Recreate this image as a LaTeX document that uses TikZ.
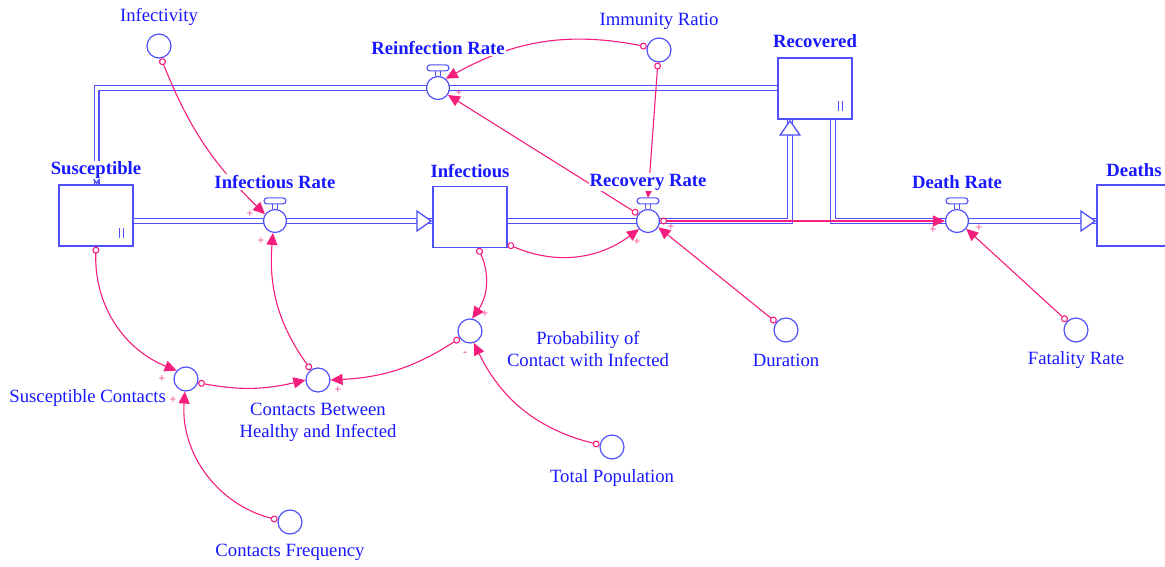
\documentclass[tikz,border=0pt]{standalone}
\usepackage{fontspec}
\setmainfont{Liberation Serif}
\usepackage {tikz}
\usetikzlibrary {positioning}
\usetikzlibrary{arrows.meta,calc,backgrounds}

\definecolor{vbluetext}{RGB}{25,25,255}
\definecolor{vblueline}{RGB}{80,80,250}
\definecolor{vpink}{RGB}{245,30,125}

% flow valve: circle with handle on top
\newcommand{\valve}[2]{%
  \node[valve] (#1) at (#2) {};
  \draw[valve_line] ($(#1.north)+(-2.5,0)$) -- ++(0,-5.5) ++(5,0) -- ++(0,5.5);
  \draw[valve_line, fill=white, rounded corners=3pt] ($(#1.north)+(-11,-5)$) rectangle ($(#1.north)+(11,-11)$);
  \coordinate (#1-top) at ($(#1.north)+(0,-11)$);
}

\begin{document}
\begin{tikzpicture}[x=1pt, y=-1pt, auto, node distance=30pt and 30pt, on grid,
  stock/.style={rectangle, draw=vblueline, fill=white, line width=1.4pt,
  minimum width=74pt, minimum height=61pt, inner sep=0pt},
  valve/.style={circle, draw=vblueline, fill=white, line width=1.2pt,
  minimum size=23pt, inner sep=0pt},
  valve_line/.style={draw=vblueline, line width=1.1pt},
  aux/.style={circle, draw=vblueline, fill=white, line width=1.2pt,
  minimum size=24pt, inner sep=0pt},
  pipe/.style={draw=vblueline, line width=1.3pt, double=white, double distance=3.4pt},
  pipe_tip/.style={draw=vblueline, line width=1.3pt, -{Triangle[length=16pt, width=22pt, fill=white]}},
  link/.style={draw=vpink, line width=1.1pt,
  arrows={Circle[open, length=7pt, width=7pt]-Triangle[length=12pt, width=11pt]}},
  name_label/.style={text=vbluetext, fill=white, inner sep=1pt, font=\fontsize{18.7}{22}\selectfont\bfseries},
  var_label/.style={text=vbluetext, fill=white, inner sep=1pt, align=center, font=\fontsize{18.7}{22}\selectfont},
  polarity/.style={text=vpink, inner sep=0pt, font=\fontsize{12}{14}\selectfont}]
  \useasboundingbox (0,0) rectangle (1165,566);

  % stocks
  \node[stock] (susceptible) at (96,215.5) {};
  \node[stock] (infectious) at (470,217) {};
  \node[stock] (recovered) at (815,88.5) {};
  \node[stock] (deaths) at (1134,215.5) {};

  % flows
  \valve{infrate}{275,221}
  \valve{recrate}{648,221}
  \valve{reinfrate}{438,88}
  \valve{deathrate}{957,221}

  % auxiliaries
  \node[aux] (infectivity) at (159,46) {};
  \node[aux] (immunity) at (659,50) {};
  \node[aux] (suscontacts) at (186,379) {};
  \node[aux] (contacts) at (318,380) {};
  \node[aux] (probability) at (470,331) {};
  \node[aux] (totalpop) at (612,447) {};
  \node[aux] (duration) at (786,330) {};
  \node[aux] (fatality) at (1076,330) {};
  \node[aux] (frequency) at (290,522) {};

  % pipes
  \coordinate (rec-in) at (790,221);
  \coordinate (rec-out) at (833,221);
  \coordinate (sus-in) at (96.5,88);
  \begin{scope}[on background layer]
    \draw[pipe] (susceptible.east |- infrate) -- (infectious.west |- infrate);
    \draw[pipe] (infectious.east |- recrate) -- (rec-in) -- (rec-in |- recovered.south);
    \draw[pipe] (rec-out |- recovered.south) -- (rec-out) -- (deaths.west |- deathrate);
    \draw[pipe] (recovered.west |- reinfrate) -- (sus-in) -- (sus-in |- susceptible.north);
  \end{scope}
  \draw[pipe_tip] ($(infectious.west |- infrate)+(-16,0)$) -- (infectious.west |- infrate);
  \draw[pipe_tip] ($(rec-in |- recovered.south)+(0,16)$) -- (rec-in |- recovered.south);
  \draw[pipe_tip] ($(deaths.west |- deathrate)+(-16,0)$) -- (deaths.west |- deathrate);
  \draw[pipe_tip] ($(sus-in |- susceptible.north)+(0,-16)$) -- (sus-in |- susceptible.north);

  % marks in stocks
  \draw[valve_line] ($(susceptible.south east)+(-14.5,-9)$) -- ++(0,-10);
  \draw[valve_line] ($(susceptible.south east)+(-10.5,-9)$) -- ++(0,-10);
  \draw[valve_line] ($(recovered.south east)+(-14.5,-9)$) -- ++(0,-10);
  \draw[valve_line] ($(recovered.south east)+(-10.5,-9)$) -- ++(0,-10);

  % links
  \path (infectivity.-80) edge[link, bend right=12] (infrate.146);
  \path (contacts.125) edge[link, bend left=20] (infrate.-100);
  \path (susceptible.south) edge[link, bend right=35] (suscontacts.138);
  \path (frequency.170) edge[link, bend left=40] (suscontacts.-95);
  \path (suscontacts.-17) edge[link, bend right=12] (contacts.180);
  \path (probability.-145) edge[link, bend left=15] (contacts.0);
  \path ([xshift=8pt]infectious.south) edge[link, bend left=30] (probability.80);
  \path (totalpop.170) edge[link, bend left=25] (probability.-72);
  \path ([yshift=4pt]infectious.south east) edge[link, bend right=30] (recrate.-138);
  \path (duration.142) edge[link] (recrate.-31);
  \path (immunity.-95) edge[link] (recrate-top);
  \path (immunity.165) edge[link, bend right=20] (reinfrate.50);
  \path (recrate.145) edge[link] (reinfrate.-35);
  \path (recrate.east) edge[link] (deathrate.west);
  \path (fatality.135) edge[link] (deathrate.-40);

  % polarities
  \node[polarity] (pol-infrate-a) at (250,214) {+};
  \node[polarity] (pol-infrate-b) at (261,241) {+};
  \node[polarity] (pol-suscontacts-a) at (162,379) {+};
  \node[polarity] (pol-suscontacts-b) at (173,400) {+};
  \node[polarity] (pol-contacts) at (338,390) {+};
  \node[polarity] (pol-probability-a) at (485,314) {+};
  \node[polarity] (pol-probability-b) at (465,354) {-};
  \node[polarity] (pol-recrate-a) at (637,242) {+};
  \node[polarity] (pol-recrate-b) at (671,227) {+};
  \node[polarity] (pol-reinfrate) at (459,93) {+};
  \node[polarity] (pol-deathrate-a) at (933,230) {+};
  \node[polarity] (pol-deathrate-b) at (979,228) {+};

  % labels
  \node[name_label, above=45.5pt of susceptible] (susceptible-label) {Susceptible};
  \node[name_label, above=46pt of infectious] (infectious-label) {Infectious};
  \node[name_label, above=47.5pt of recovered] (recovered-label) {Recovered};
  \node[name_label, above=45.5pt of deaths] (deaths-label) {Deaths};
  \node[name_label, above=39pt of infrate] (infrate-label) {Infectious Rate};
  \node[name_label, above=39pt of recrate] (recrate-label) {Recovery Rate};
  \node[name_label, above=40pt of reinfrate] (reinfrate-label) {Reinfection Rate};
  \node[name_label, above=39pt of deathrate] (deathrate-label) {Death Rate};
  \node[var_label, above=29pt of infectivity] (infectivity-label) {Infectivity};
  \node[var_label, above=29pt of immunity] (immunity-label) {Immunity Ratio};
  \node[var_label, anchor=east] (suscontacts-label) at (167,398) {Susceptible Contacts};
  \node[var_label, below=42pt of contacts] (contacts-label) {Contacts Between\\Healthy and Infected};
  \node[var_label, below right=18pt and 118pt of probability] (probability-label) {Probability of\\Contact with Infected};
  \node[var_label, below=31pt of totalpop] (totalpop-label) {Total Population};
  \node[var_label, below=30pt of duration] (duration-label) {Duration};
  \node[var_label, below=30pt of fatality] (fatality-label) {Fatality Rate};
  \node[var_label, below=30pt of frequency] (frequency-label) {Contacts Frequency};
\end{tikzpicture}
\end{document}
